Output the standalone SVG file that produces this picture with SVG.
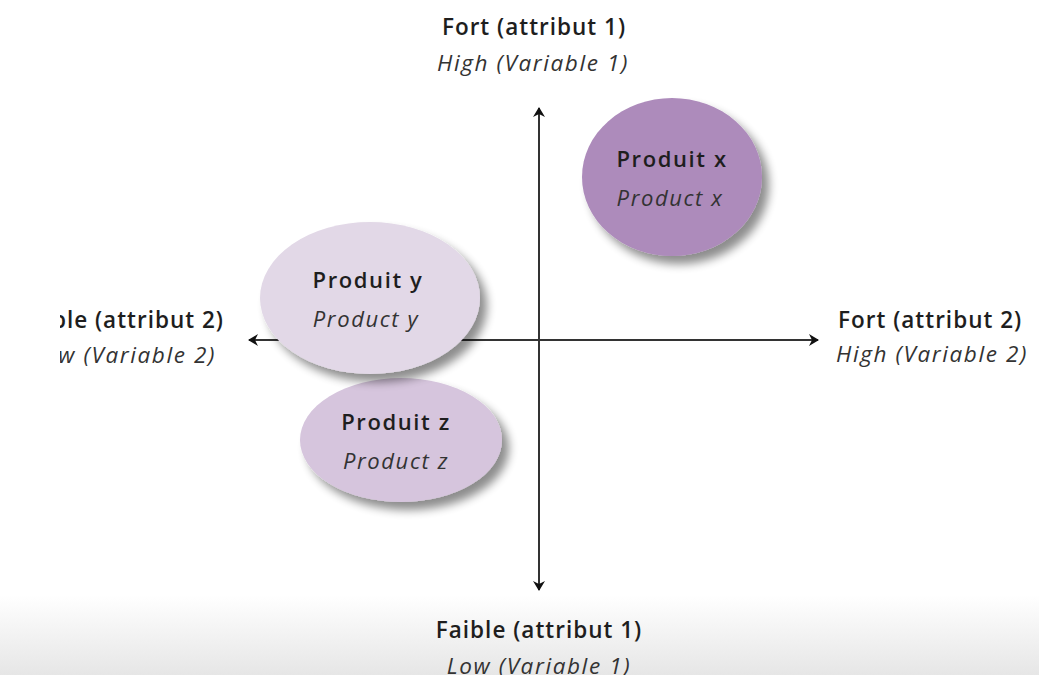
<svg xmlns="http://www.w3.org/2000/svg" width="1039" height="675" viewBox="0 0 1039 675">
<defs>
<linearGradient id="band" x1="0" y1="0" x2="0" y2="1">
<stop offset="0" stop-color="#ffffff"/>
<stop offset="1" stop-color="#e6e6e6"/>
</linearGradient>
<filter id="sh" x="-30%" y="-30%" width="160%" height="160%">
<feGaussianBlur in="SourceAlpha" stdDeviation="5"/>
<feOffset dx="7" dy="8" result="b"/>
<feComponentTransfer><feFuncA type="linear" slope="0.45"/></feComponentTransfer>
<feMerge><feMergeNode/><feMergeNode in="SourceGraphic"/></feMerge>
</filter>
<marker id="ah" viewBox="0 0 14 14" refX="11" refY="7" markerWidth="14" markerHeight="14" markerUnits="userSpaceOnUse" orient="auto-start-reverse">
<path d="M2,1 L12,7 L2,13 L5,7 Z" fill="#111"/>
</marker>
<clipPath id="lc"><rect x="60" y="0" width="979" height="675"/></clipPath>
</defs>
<style>
.t{font-family:"Open Sans","DejaVu Sans",sans-serif;font-size:22.5px;fill:#1e1e1e;font-weight:600;letter-spacing:1px;}
.p{font-size:22px;letter-spacing:1.6px;}
.i{font-style:italic;font-weight:400;fill:#333;letter-spacing:1.6px;}
.ax{stroke:#333;stroke-width:2;fill:none;}
</style>
<rect width="1039" height="675" fill="#ffffff"/>
<rect x="0" y="595" width="1039" height="80" fill="url(#band)"/>
<g id="connectors">
<line class="ax" x1="539" y1="590" x2="539" y2="108" marker-end="url(#ah)" marker-start="url(#ah)"/>
<line class="ax" x1="249" y1="340" x2="818" y2="340" marker-end="url(#ah)" marker-start="url(#ah)"/>
</g>
<g id="label-top">
<text class="t" x="534" y="35" text-anchor="middle">Fort (attribut 1)</text>
<text class="t i" x="533" y="71" text-anchor="middle">High (Variable 1)</text>
</g>
<g id="label-bottom">
<text class="t" x="539" y="638" text-anchor="middle">Faible (attribut 1)</text>
<text class="t i" x="539" y="674" text-anchor="middle">Low (Variable 1)</text>
</g>
<g id="label-left" clip-path="url(#lc)">
<text class="t" x="224" y="328" text-anchor="end">Faible (attribut 2)</text>
<text class="t i" x="216" y="363" text-anchor="end">Low (Variable 2)</text>
</g>
<g id="label-right">
<text class="t" x="838" y="328">Fort (attribut 2)</text>
<text class="t i" x="836" y="362">High (Variable 2)</text>
</g>
<g id="node-x">
<ellipse cx="672" cy="177" rx="90" ry="79" fill="#ad8bbb" filter="url(#sh)"/>
<text class="t p" x="672" y="167" text-anchor="middle">Produit  x</text>
<text class="t p i" x="670" y="206" text-anchor="middle">Product x</text>
</g>
<g id="node-z">
<ellipse cx="401" cy="440" rx="101" ry="62" fill="#d6c5dd" filter="url(#sh)"/>
<text class="t p" x="396" y="430" text-anchor="middle">Produit  z</text>
<text class="t p i" x="396" y="469" text-anchor="middle">Product z</text>
</g>
<g id="node-y">
<ellipse cx="370" cy="298" rx="110" ry="76" fill="#e2d8e7" filter="url(#sh)"/>
<text class="t p" x="368" y="288" text-anchor="middle">Produit  y</text>
<text class="t p i" x="366" y="327" text-anchor="middle">Product y</text>
</g>
</svg>
